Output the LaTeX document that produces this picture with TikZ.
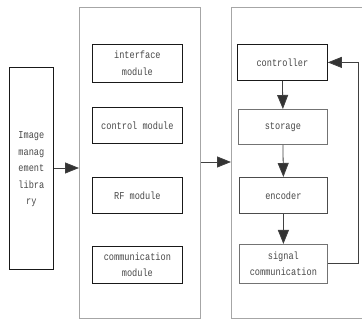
\documentclass[tikz,border=0pt]{standalone}
\usepackage{fontspec}
\setmonofont[FakeStretch=0.82]{Liberation Mono}
\usetikzlibrary{arrows.meta}
\tikzset{
  panel/.style={draw=black!35, line width=0.8pt, anchor=north west, inner sep=0pt},
  blk/.style={draw=#1, line width=0.8pt, anchor=north west, align=center,
    inner sep=1pt, text=black!72,
    font=\ttfamily\fontsize{10.5}{16.5}\selectfont},
  blk/.default=black!90,
  flow/.style={draw=black!75, line width=0.8pt,
    -{Triangle[length=14pt,width=11pt,fill=black!80]}, color=black!75},
}
\begin{document}
\begin{tikzpicture}[x=1pt,y=-1pt]
\useasboundingbox (0,0) rectangle (362,320);
% library block
\node[blk, minimum width=44pt, minimum height=202pt] (lib) at (9,67)
  {\\[-8pt]Image\\manag\\ement\\libra\\ry};
% middle panel with its modules
\node[panel, minimum width=121pt, minimum height=311pt] (midp) at (79,7) {};
\node[blk, minimum width=90pt, minimum height=38pt] (ifm) at (92,44) {interface\\module};
\node[blk, minimum width=90pt, minimum height=36pt] (ctm) at (92,107) {control module};
\node[blk, minimum width=90pt, minimum height=36pt] (rfm) at (92,177) {RF module};
\node[blk, minimum width=90pt, minimum height=37pt] (cmm) at (92,246) {communication\\module};
% right panel
\node[panel, minimum width=131pt, minimum height=311pt] (rgtp) at (231,7) {};
\node[blk, minimum width=90pt, minimum height=36pt] (ctrl) at (237,44) {controller};
\node[blk=black!55, minimum width=89pt, minimum height=35pt] (stor) at (238,109) {storage};
\node[blk=black!70, minimum width=88pt, minimum height=36pt] (enc) at (239,177) {encoder};
\node[blk=black!55, minimum width=88pt, minimum height=39pt] (sig) at (239,244) {signal\\communication};
% connectors
\draw[flow] (lib.east |- 0,168) -- (midp.west |- 0,168);
\draw[flow] (midp.east |- 0,162) -- (rgtp.west |- 0,162);
\draw[flow] (ctrl.south) -- (stor.north);
\draw[flow] (stor.south) -- (enc.north);
\draw[flow] (enc.south) -- (sig.north);
\draw[flow] (sig.east) -- ++(31,0) |- (ctrl.east);
\end{tikzpicture}
\end{document}
